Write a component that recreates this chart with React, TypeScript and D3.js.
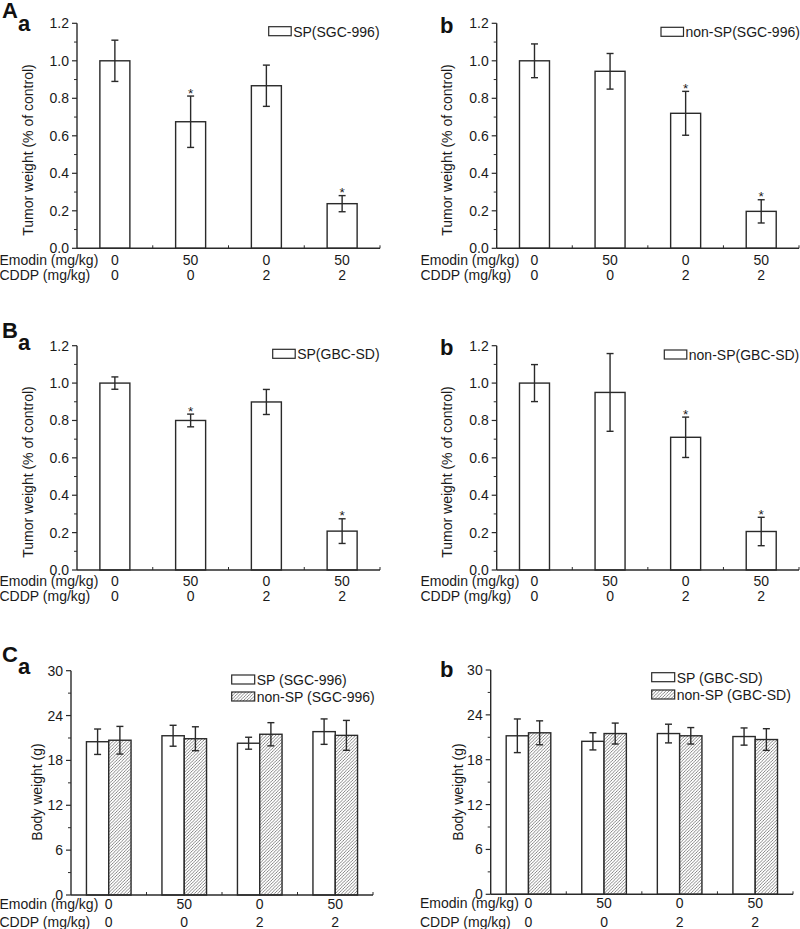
import React from "react";
import * as d3 from "d3";

const emodin = ["0", "50", "0", "50"];
const cddp = ["0", "0", "2", "2"];

const aSpMean = [1.0, 0.675, 0.867, 0.238];
const aSpErr = [0.11, 0.137, 0.11, 0.043];
const aSpSig = [false, true, false, true];

const aNonMean = [1.0, 0.944, 0.72, 0.197];
const aNonErr = [0.09, 0.095, 0.117, 0.062];
const aNonSig = [false, false, true, true];

const bSpMean = [1.0, 0.8, 0.899, 0.208];
const bSpErr = [0.033, 0.034, 0.067, 0.066];
const bSpSig = [false, true, false, true];

const bNonMean = [1.0, 0.95, 0.71, 0.206];
const bNonErr = [0.099, 0.208, 0.108, 0.076];
const bNonSig = [false, false, true, true];

const cSgcSpMean = [20.5, 21.3, 20.3, 21.85];
const cSgcSpErr = [1.7, 1.4, 0.8, 1.7];
const cSgcNonMean = [20.7, 20.9, 21.5, 21.35];
const cSgcNonErr = [1.85, 1.6, 1.55, 2.0];

const cGbcSpMean = [21.2, 20.46, 21.5, 21.1];
const cGbcSpErr = [2.25, 1.15, 1.25, 1.15];
const cGbcNonMean = [21.6, 21.5, 21.2, 20.7];
const cGbcNonErr = [1.6, 1.4, 1.1, 1.45];

const tumorTicks = [0, 0.2, 0.4, 0.6, 0.8, 1.0, 1.2];
const bodyTicks = [0, 6, 12, 18, 24, 30];

const FONT = "'Liberation Sans', Arial, sans-serif";
const FS = 14;
const STROKE = "#2a2a2a";
const TEXT = "#1a1a1a";

type Series = { mean: number[]; err: number[]; sig?: boolean[]; hatch: boolean; label: string };

type PanelProps = {
  x0: number;
  x1: number;
  yTop: number;
  yBottom: number;
  domainMax: number;
  ticks: number[];
  minorStep: number;
  tickFmt: (v: number) => string;
  series: Series[];
  barWidth: number;
  rowY: [number, number];
  rowLabelX: number;
  yTitle: string;
  yTitleX: number;
  yTitleY: number;
  legendBoxX: number;
  legendBoxY: number[];
  legendBoxW: number;
  legendBoxH: number;
};

function Panel(p: PanelProps) {
  const groups = emodin.map((_, i) => String(i));
  const xBand = d3.scaleBand<string>().domain(groups).range([p.x0, p.x1]).paddingInner(0).paddingOuter(0);
  const y = d3.scaleLinear().domain([0, p.domainMax]).range([p.yBottom, p.yTop]);
  const nS = p.series.length;
  const sub = d3
    .scaleBand<string>()
    .domain(p.series.map((_, i) => String(i)))
    .range([0, p.barWidth * nS])
    .padding(0);
  const minorTicks = d3.range(0, p.domainMax + 1e-9, p.minorStep).filter(
    (v) => !p.ticks.some((t) => Math.abs(t - v) < 1e-9)
  );
  const bw = xBand.bandwidth();
  const boundaries = groups.map((g) => (xBand(g) as number) + bw);

  return (
    <g>
      {p.series.map((s, si) =>
        s.mean.map((m, gi) => {
          const cx = (xBand(String(gi)) as number) + bw / 2;
          const bx = cx - (p.barWidth * nS) / 2 + (sub(String(si)) as number);
          const top = y(m);
          const bc = bx + p.barWidth / 2;
          const eTop = y(m + s.err[gi]);
          const eBot = y(m - s.err[gi]);
          return (
            <g key={`${si}-${gi}`}>
              <rect
                x={bx}
                y={top}
                width={p.barWidth}
                height={p.yBottom - top}
                fill={s.hatch ? "url(#hatch)" : "#fff"}
                stroke={STROKE}
                strokeWidth={1.4}
              />
              <line x1={bc} x2={bc} y1={eTop} y2={eBot} stroke={STROKE} strokeWidth={1.4} />
              <line x1={bc - 3.5} x2={bc + 3.5} y1={eTop} y2={eTop} stroke={STROKE} strokeWidth={1.4} />
              <line x1={bc - 3.5} x2={bc + 3.5} y1={eBot} y2={eBot} stroke={STROKE} strokeWidth={1.4} />
              {s.sig && s.sig[gi] ? (
                <text x={bc} y={eTop + 1.5} textAnchor="middle" fontSize={13.5} fontFamily={FONT} fill={TEXT}>
                  *
                </text>
              ) : null}
            </g>
          );
        })
      )}
      <line x1={p.x0} x2={p.x0} y1={p.yTop} y2={p.yBottom} stroke={STROKE} strokeWidth={1.4} />
      {p.ticks.map((t) => (
        <g key={`t${t}`}>
          <line x1={p.x0 - 5} x2={p.x0} y1={y(t)} y2={y(t)} stroke={STROKE} strokeWidth={1.2} />
          <text
            x={p.x0 - 8}
            y={y(t)}
            textAnchor="end"
            dominantBaseline="central"
            fontSize={FS}
            fontFamily={FONT}
            fill={TEXT}
          >
            {p.tickFmt(t)}
          </text>
        </g>
      ))}
      {minorTicks.map((t) => (
        <line key={`m${t}`} x1={p.x0 - 3} x2={p.x0} y1={y(t)} y2={y(t)} stroke={STROKE} strokeWidth={1} />
      ))}
      <line x1={p.x0} x2={p.x1} y1={p.yBottom} y2={p.yBottom} stroke={STROKE} strokeWidth={1.4} />
      {boundaries.map((bx, i) => (
        <line key={`b${i}`} x1={bx} x2={bx} y1={p.yBottom - 3} y2={p.yBottom} stroke={STROKE} strokeWidth={1} />
      ))}
      <text x={p.rowLabelX} y={p.rowY[0]} fontSize={FS} fontFamily={FONT} fill={TEXT}>
        Emodin (mg/kg)
      </text>
      <text x={p.rowLabelX} y={p.rowY[1]} fontSize={FS} fontFamily={FONT} fill={TEXT}>
        CDDP (mg/kg)
      </text>
      {groups.map((g, i) => {
        const cx = (xBand(g) as number) + bw / 2;
        return (
          <g key={`r${i}`}>
            <text x={cx} y={p.rowY[0]} textAnchor="middle" fontSize={FS} fontFamily={FONT} fill={TEXT}>
              {emodin[i]}
            </text>
            <text x={cx} y={p.rowY[1]} textAnchor="middle" fontSize={FS} fontFamily={FONT} fill={TEXT}>
              {cddp[i]}
            </text>
          </g>
        );
      })}
      <text
        transform={`translate(${p.yTitleX},${p.yTitleY}) rotate(-90)`}
        textAnchor="middle"
        dominantBaseline="central"
        fontSize={FS}
        fontFamily={FONT}
        fill={TEXT}
      >
        {p.yTitle}
      </text>
      {p.series.map((s, si) => (
        <g key={`lg${si}`}>
          <rect
            x={p.legendBoxX}
            y={p.legendBoxY[si]}
            width={p.legendBoxW}
            height={p.legendBoxH}
            fill={s.hatch ? "url(#hatch)" : "#fff"}
            stroke={STROKE}
            strokeWidth={1.2}
          />
          <text
            x={p.legendBoxX + p.legendBoxW + 2}
            y={p.legendBoxY[si] + p.legendBoxH + 0.8}
            fontSize={FS}
            fontFamily={FONT}
            fill={TEXT}
          >
            {s.label}
          </text>
        </g>
      ))}
    </g>
  );
}

function Letter({ x, y, t }: { x: number; y: number; t: string }) {
  return (
    <text x={x} y={y} fontSize={22} fontWeight="bold" fontFamily={FONT} fill="#111">
      {t}
    </text>
  );
}

export default function App() {
  const fmt1 = (v: number) => v.toFixed(1);
  const fmt0 = (v: number) => String(v);
  const tumorBase = {
    domainMax: 1.2,
    ticks: tumorTicks,
    minorStep: 0.1,
    tickFmt: fmt1,
    barWidth: 30,
    legendBoxW: 22.5,
    legendBoxH: 9,
  };
  const bodyBase = {
    domainMax: 30,
    ticks: bodyTicks,
    minorStep: 3,
    tickFmt: fmt0,
    barWidth: 22.3,
    legendBoxW: 23,
    legendBoxH: 9,
  };
  return (
    <svg width={800} height={929} style={{ position: "absolute", left: 0, top: 0, background: "#fff" }}>
      <defs>
        <pattern id="hatch" patternUnits="userSpaceOnUse" width={3.2} height={3.2}>
          <rect width={3.2} height={3.2} fill="#fff" />
          <path d="M-0.8,0.8 L0.8,-0.8 M0,3.2 L3.2,0 M2.4,4 L4,2.4" stroke="#555" strokeWidth={0.7} />
        </pattern>
      </defs>
      <rect x={0} y={0} width={800} height={929} fill="#fff" />

      <Letter x={2} y={17.5} t="A" />
      <Letter x={18} y={30.5} t="a" />
      <Letter x={440} y={33} t="b" />
      <Letter x={2} y={337.5} t="B" />
      <Letter x={18} y={350} t="a" />
      <Letter x={440} y={355} t="b" />
      <Letter x={2} y={661.5} t="C" />
      <Letter x={18} y={674} t="a" />
      <Letter x={440} y={677} t="b" />

      <Panel
        {...tumorBase}
        x0={77}
        x1={380}
        yTop={23.3}
        yBottom={248.3}
        series={[{ mean: aSpMean, err: aSpErr, sig: aSpSig, hatch: false, label: "SP(SGC-996)" }]}
        rowY={[265, 280]}
        rowLabelX={-0.5}
        yTitle="Tumor weight (% of control)"
        yTitleX={28}
        yTitleY={150}
        legendBoxX={268.7}
        legendBoxY={[26.7]}
      />
      <Panel
        {...tumorBase}
        x0={496.7}
        x1={799}
        yTop={23.3}
        yBottom={248.3}
        series={[{ mean: aNonMean, err: aNonErr, sig: aNonSig, hatch: false, label: "non-SP(SGC-996)" }]}
        rowY={[265, 280]}
        rowLabelX={420.5}
        yTitle="Tumor weight (% of control)"
        yTitleX={447}
        yTitleY={150}
        legendBoxX={661}
        legendBoxY={[27.3]}
      />
      <Panel
        {...tumorBase}
        x0={77}
        x1={380}
        yTop={345.7}
        yBottom={570}
        series={[{ mean: bSpMean, err: bSpErr, sig: bSpSig, hatch: false, label: "SP(GBC-SD)" }]}
        rowY={[586, 600.5]}
        rowLabelX={-0.5}
        yTitle="Tumor weight (% of control)"
        yTitleX={28}
        yTitleY={472}
        legendBoxX={272.7}
        legendBoxY={[349.3]}
      />
      <Panel
        {...tumorBase}
        x0={496.7}
        x1={799}
        yTop={345.7}
        yBottom={570}
        series={[{ mean: bNonMean, err: bNonErr, sig: bNonSig, hatch: false, label: "non-SP(GBC-SD)" }]}
        rowY={[586, 600.5]}
        rowLabelX={420.5}
        yTitle="Tumor weight (% of control)"
        yTitleX={447}
        yTitleY={472}
        legendBoxX={664.3}
        legendBoxY={[350]}
      />
      <Panel
        {...bodyBase}
        x0={71}
        x1={373}
        yTop={670.7}
        yBottom={895}
        series={[
          { mean: cSgcSpMean, err: cSgcSpErr, hatch: false, label: "SP (SGC-996)" },
          { mean: cSgcNonMean, err: cSgcNonErr, hatch: true, label: "non-SP (SGC-996)" },
        ]}
        rowY={[908.5, 926.5]}
        rowLabelX={-0.5}
        yTitle="Body weight (g)"
        yTitleX={37}
        yTitleY={792}
        legendBoxX={231.7}
        legendBoxY={[675, 692]}
      />
      <Panel
        {...bodyBase}
        x0={490.7}
        x1={793}
        yTop={670}
        yBottom={894.3}
        series={[
          { mean: cGbcSpMean, err: cGbcSpErr, hatch: false, label: "SP (GBC-SD)" },
          { mean: cGbcNonMean, err: cGbcNonErr, hatch: true, label: "non-SP (GBC-SD)" },
        ]}
        rowY={[908, 926.5]}
        rowLabelX={420}
        yTitle="Body weight (g)"
        yTitleX={457.5}
        yTitleY={792}
        legendBoxX={651.7}
        legendBoxY={[672.7, 690]}
      />
    </svg>
  );
}
